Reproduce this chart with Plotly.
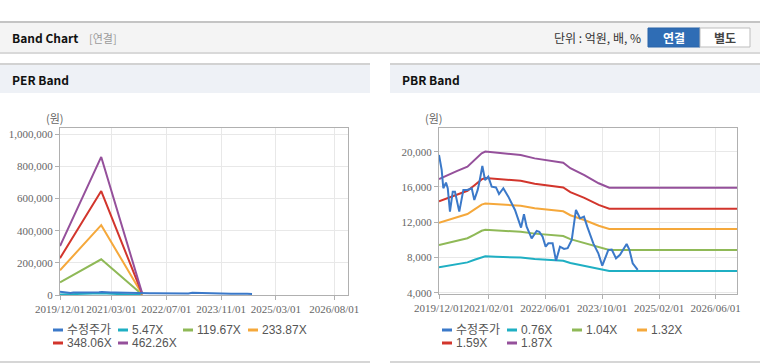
import plotly.graph_objects as go

# ---------------- DATA ----------------
price_dates = ["2019-12-01","2019-12-24","2020-01-07","2020-01-30","2020-02-14","2020-03-04","2020-03-28",
               "2020-04-16","2020-05-23","2020-06-27","2020-07-31","2020-09-07","2020-09-29","2020-10-28",
               "2020-11-11","2020-12-07","2020-12-30","2021-01-27","2021-02-25","2021-04-03","2021-04-29",
               "2021-06-05","2021-07-18","2021-09-13","2021-11-04","2021-11-29","2021-12-22","2022-02-03",
               "2022-03-18","2022-04-10","2022-05-08","2022-06-03","2022-06-26","2022-08-02","2022-08-31",
               "2022-10-04","2022-11-08","2022-12-09","2023-01-13","2023-02-18","2023-03-25","2023-04-28",
               "2023-05-26","2023-07-17","2023-08-29","2023-10-02","2023-11-23","2023-12-22","2024-01-28",
               "2024-03-02","2024-04-28","2024-05-21","2024-06-19","2024-08-01"]
price = [19630,17930,15850,16490,15850,13200,15460,
         15460,13200,15660,15660,15850,14520,15660,
         16500,18380,16790,17170,16030,15950,15200,
         15850,14900,13390,11380,12900,11490,10170,
         11000,10900,10360,9220,9600,9600,7630,
         9220,8960,9050,9980,13390,12440,12630,
         11490,9600,8470,7060,8850,8900,7900,
         8300,9520,8900,7340,6580]

per_dates = ["2019-12-01", "2020-12-01", "2021-12-01"]
per_547 = [3599, 10163, 82]
per_11967 = [78743, 222347, 1795]
per_23387 = [153886, 434530, 3508]
per_34806 = [229023, 646695, 5221]
per_46226 = [304167, 858879, 6934]

pbr_dates = ["2019-12-01","2020-03-01","2020-05-01","2020-08-01","2020-10-01","2020-12-01","2021-01-01",
             "2021-04-01","2021-11-01","2022-03-01","2022-11-01","2023-01-01","2023-05-01","2023-09-01",
             "2023-12-01","2026-12-01"]
pbr_076 = [6870,7098,7235,7440,7744,8056,8132,8086,7980,7820,7623,7364,7053,6673,6468,6468]
pbr_104 = [9402,9714,9901,10182,10598,11024,11128,11066,10920,10702,10431,10078,9651,9131,8850,8850]
pbr_132 = [11933,12329,12566,12923,13451,13992,14124,14045,13860,13583,13240,12791,12250,11590,11233,11233]
pbr_159 = [14374,14851,15137,15566,16202,16854,17013,16918,16695,16361,15948,15407,14755,13960,13531,13531]
pbr_187 = [16905,17466,17802,18307,19055,19822,20009,19897,19635,19242,18756,18120,17354,16419,15914,15914]

per_names = ["수정주가", "5.47X", "119.67X", "233.87X", "348.06X", "462.26X"]
pbr_names = ["수정주가", "0.76X", "1.04X", "1.32X", "1.59X", "1.87X"]

per_xticks = ["2019-12-01","2021-03-01","2022-07-01","2023-11-01","2025-03-01","2026-08-01"]
per_xtext = ["2019/12/01","2021/03/01","2022/07/01","2023/11/01","2025/03/01","2026/08/01"]
pbr_xticks = ["2019-12-01","2021-02-01","2022-06-01","2023-10-01","2025-02-01","2026-06-01"]
pbr_xtext = ["2019/12/01","2021/02/01","2022/06/01","2023/10/01","2025/02/01","2026/06/01"]
per_yticks = [0, 200000, 400000, 600000, 800000, 1000000]
per_ytext = ["0", "200,000", "400,000", "600,000", "800,000", "1,000,000"]
pbr_yticks = [4000, 8000, 12000, 16000, 20000]
pbr_ytext = ["4,000", "8,000", "12,000", "16,000", "20,000"]

# ---------------- STYLE ----------------
colors = ["#3b79c9", "#1fafc3", "#8fb957", "#f5a83b", "#d2352c", "#95509b"]
W, H = 760, 364
KR = "Noto Sans CJK KR"
TICKFONT = dict(family="Liberation Sans Narrow, Arial Narrow", size=11, color="#666666")

def px(x):
    return x / W

def py(y):
    return 1 - y / H

fig = go.Figure()

per_series = [per_547, per_11967, per_23387, per_34806, per_46226]
pbr_series = [pbr_076, pbr_104, pbr_132, pbr_159, pbr_187]

for i, s in enumerate(per_series):
    fig.add_trace(go.Scatter(x=per_dates, y=s, mode="lines", name=per_names[i + 1],
                             line=dict(color=colors[i + 1], width=2), xaxis="x", yaxis="y", showlegend=False))
fig.add_trace(go.Scatter(x=price_dates, y=price, mode="lines", name=per_names[0],
                         line=dict(color=colors[0], width=2), xaxis="x", yaxis="y", showlegend=False))
for i, s in enumerate(pbr_series):
    fig.add_trace(go.Scatter(x=pbr_dates, y=s, mode="lines", name=pbr_names[i + 1],
                             line=dict(color=colors[i + 1], width=2), xaxis="x2", yaxis="y2", showlegend=False))
fig.add_trace(go.Scatter(x=price_dates, y=price, mode="lines", name=pbr_names[0],
                         line=dict(color=colors[0], width=2), xaxis="x2", yaxis="y2", showlegend=False))

axis_common = dict(showgrid=True, gridcolor="#e8e8e8", gridwidth=1, showline=True, mirror=True,
                   linecolor="#b0b0b0", linewidth=1, ticks="outside", ticklen=4, tickcolor="#b0b0b0",
                   tickfont=TICKFONT, zeroline=False, fixedrange=True, tickangle=0, automargin=False)

fig.update_layout(
    width=W, height=H, margin=dict(l=0, r=0, t=0, b=0, pad=0, autoexpand=False),
    paper_bgcolor="white", plot_bgcolor="white", showlegend=False,
    xaxis=dict(domain=[px(60), px(348)], anchor="y", type="date", range=["2019-12-01", "2026-12-01"],
               tickmode="array", tickvals=per_xticks, ticktext=per_xtext, **axis_common),
    yaxis=dict(domain=[py(295), py(128)], anchor="x", range=[0, 1039000],
               tickmode="array", tickvals=per_yticks, ticktext=per_ytext, **axis_common),
    xaxis2=dict(domain=[px(439), px(737)], anchor="y2", type="date", range=["2019-12-01", "2026-12-01"],
                tickmode="array", tickvals=pbr_xticks, ticktext=pbr_xtext, **axis_common),
    yaxis2=dict(domain=[py(294), py(128)], anchor="x2", range=[3850, 22690],
                tickmode="array", tickvals=pbr_yticks, ticktext=pbr_ytext, **axis_common),
)

shapes = []
anns = []

def rect(x0, y0, x1, y1, fill, line_color=None, lw=0):
    shapes.append(dict(type="rect", xref="paper", yref="paper", x0=px(x0), x1=px(x1), y0=py(y1), y1=py(y0),
                       fillcolor=fill, line=dict(color=line_color or fill, width=lw), layer="below"))

def hline(x0, x1, y, color, w=1):
    shapes.append(dict(type="line", xref="paper", yref="paper", x0=px(x0), x1=px(x1), y0=py(y), y1=py(y),
                       line=dict(color=color, width=w), layer="below"))

def text(x, y, t, size=12, color="#333", bold=False, anchor="left", family=KR):
    anns.append(dict(xref="paper", yref="paper", x=px(x), y=py(y), text=("<b>%s</b>" % t) if bold else t,
                     showarrow=False, xanchor=anchor, yanchor="middle", borderpad=0,
                     font=dict(family=family, size=size, color=color)))

hline(0, 760, 22, "#c4c4c4", 2)
rect(0, 23, 760, 52, "#f4f4f4")
rect(0, 52, 760, 54, "#d9d9d9")
text(11, 38, "Band Chart", 12, "#111", True)
text(88, 38, "[연결]", 11, "#9a9a9a")
text(642, 38, "단위 : 억원, 배, %", 12, "#333", anchor="right")
rect(648, 28, 700, 47, "#2f6db5", "#2a64a8", 1)
rect(700, 28, 750, 47, "#ffffff", "#bdbdbd", 1)
text(674, 38, "연결", 12, "#ffffff", True, anchor="center")
text(725, 38, "별도", 12, "#444444", True, anchor="center")

for (a, b, title) in [(0, 370, "PER Band"), (390, 760, "PBR Band")]:
    hline(a, b, 64, "#d2d2d2", 2)
    rect(a, 65, b, 93, "#eef1f6")
    text(a + 11, 79, title, 12, "#111", True)
    hline(a, b, 362, "#d6d6d6", 2)

text(55, 118, "(원)", 11, "#666", anchor="center")
text(434, 118, "(원)", 11, "#666", anchor="center")

for (x0, names) in [(53, per_names), (442, pbr_names)]:
    for i, nm in enumerate(names):
        col = i % 4
        row = i // 4
        lx = x0 + col * 65
        ly = 330 + row * 13
        hline(lx, lx + 10, ly, colors[i], 3)
        text(lx + 13, ly, nm, 12, "#555", family="Liberation Sans, " + KR)

fig.update_layout(shapes=shapes, annotations=anns)
fig.write_html("out.html", config={"displayModeBar": False, "responsive": False},
               post_script="document.body.style.margin='0';document.body.style.overflow='hidden';")
